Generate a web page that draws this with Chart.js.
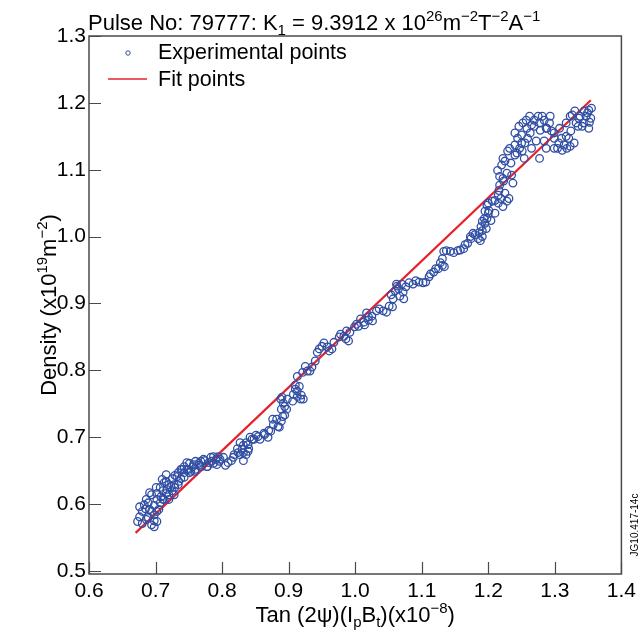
<!DOCTYPE html>
<html>
<head>
<meta charset="utf-8">
<script src="https://cdn.jsdelivr.net/npm/chart.js@4"></script>
<style>
html, body { margin: 0; padding: 0; background: #fff; }
canvas { display: block; }
</style>
</head>
<body>
<canvas id="densityChart" width="641" height="635"></canvas>
<script>
// experimental points (x = Tan(2psi)(IpBt) x1e-8, y = density x1e19)
const expX = [
  0.673, 0.676, 0.676, 0.680, 0.683, 0.686, 0.691, 0.694, 0.698, 0.698,
  0.694, 0.702, 0.708, 0.705, 0.713, 0.717, 0.723, 0.732, 0.728, 0.740,
  0.747, 0.753, 0.757, 0.768, 0.777, 0.784, 0.787, 0.794, 0.802, 0.809,
  0.817, 0.824, 0.832, 0.827, 0.839, 0.842, 0.848, 0.854, 0.864, 0.873,
  0.876, 0.884, 0.891, 0.894, 0.888, 0.898, 0.906, 0.913, 0.918, 0.910,
  0.916, 0.913, 0.921, 0.928, 0.935, 0.940, 0.943, 0.950, 0.958, 0.965,
  0.968, 0.976, 0.983, 0.990, 0.992, 0.999, 1.005, 1.013, 1.020, 1.025,
  1.032, 1.042, 1.051, 1.057, 1.062, 1.065, 1.072, 1.076, 1.087, 1.096,
  1.106, 1.111, 1.118, 1.125, 1.131, 1.131, 1.133, 1.143, 1.154, 1.163,
  1.169, 1.173, 1.177, 1.185, 1.191, 1.191, 1.195, 1.198, 1.200, 1.206,
  1.215, 1.215, 1.217, 1.217, 1.220, 1.228, 1.235, 1.225, 1.229, 1.240,
  1.244, 1.250, 1.258, 1.265, 1.269, 1.281, 1.292, 1.295, 1.272, 1.265,
  1.284, 1.299, 1.310, 1.314, 1.318, 1.304, 1.324, 1.326, 1.336, 1.344,
  1.351, 1.354, 1.351,
  0.686, 0.691, 0.701, 0.710, 0.716, 0.702, 0.713, 0.720, 0.728, 0.735,
  0.743, 0.750, 0.759, 0.765, 0.772, 0.780, 0.792, 0.797,
  1.240, 1.247, 1.255, 1.259, 1.252, 1.262, 1.277, 1.287, 1.307, 1.321,
  1.332, 1.341, 1.347, 1.329, 1.195, 1.198, 1.210, 1.222, 1.225,
  0.680, 0.685, 0.689, 0.689, 0.694, 0.698, 0.702, 0.702, 0.707, 0.707,
  0.698, 0.711, 0.711, 0.716, 0.716, 0.720, 0.720, 0.725, 0.725, 0.729,
  0.729, 0.734, 0.734, 0.738, 0.738, 0.743, 0.743, 0.747, 0.751, 0.751,
  0.756, 0.760, 0.760, 0.765, 0.769, 0.774, 0.778, 0.783, 0.787, 0.791,
  0.796, 0.805, 0.814, 0.818, 0.823, 0.827, 0.832, 0.832, 0.836, 0.836,
  0.840, 0.845, 0.830, 0.839, 0.851, 0.857, 0.863, 0.869, 0.870, 0.877,
  0.882, 0.886, 0.889, 0.894, 0.889, 0.892, 0.897, 0.890, 0.907, 0.913,
  0.919, 0.910, 0.922, 0.925, 0.932, 0.946, 0.953, 0.961, 0.978, 0.986,
  0.987, 1.002, 1.008, 1.014, 1.020, 1.026, 1.017, 1.036, 1.047, 1.056,
  1.054, 1.060, 1.067, 1.063, 1.070, 1.073, 1.081, 1.091, 1.102, 1.113,
  1.121, 1.128, 1.134, 1.137, 1.148, 1.158, 1.165, 1.174, 1.180, 1.188,
  1.186, 1.189, 1.194, 1.197, 1.201, 1.204, 1.191, 1.200, 1.210, 1.219,
  1.222, 1.231, 1.216, 1.223, 1.214, 1.228, 1.222, 1.234, 1.232, 1.237,
  1.240, 1.246, 1.250, 1.243, 1.254, 1.257, 1.263, 1.269, 1.275, 1.284,
  1.288, 1.278, 1.293, 1.251, 1.277, 1.287, 1.299, 1.306, 1.317, 1.323,
  1.311, 1.299, 1.317, 1.323, 1.330, 1.338, 1.343, 1.349, 1.352, 1.335,
  1.355
];
const expY = [
  0.574, 0.596, 0.581, 0.589, 0.599, 0.577, 0.592, 0.569, 0.566, 0.584,
  0.614, 0.607, 0.611, 0.592, 0.632, 0.622, 0.626, 0.641, 0.614, 0.652,
  0.662, 0.649, 0.659, 0.664, 0.656, 0.664, 0.671, 0.671, 0.670, 0.662,
  0.670, 0.677, 0.677, 0.692, 0.679, 0.700, 0.697, 0.701, 0.704, 0.709,
  0.727, 0.716, 0.731, 0.746, 0.757, 0.757, 0.754, 0.761, 0.757, 0.772,
  0.776, 0.791, 0.797, 0.799, 0.805, 0.814, 0.827, 0.836, 0.835, 0.832,
  0.842, 0.850, 0.851, 0.844, 0.857, 0.865, 0.866, 0.872, 0.875, 0.881,
  0.889, 0.889, 0.896, 0.907, 0.929, 0.922, 0.917, 0.925, 0.929, 0.932,
  0.932, 0.940, 0.947, 0.952, 0.957, 0.967, 0.978, 0.978, 0.979, 0.982,
  0.990, 1.000, 1.005, 0.997, 1.009, 1.023, 1.038, 1.047, 1.035, 1.053,
  1.050, 1.062, 1.077, 1.090, 1.107, 1.053, 1.092, 1.113, 1.128, 1.137,
  1.147, 1.152, 1.162, 1.167, 1.174, 1.180, 1.170, 1.158, 1.143, 1.132,
  1.143, 1.147, 1.147, 1.137, 1.132, 1.132, 1.158, 1.182, 1.177, 1.188,
  1.189, 1.177, 1.162,
  0.607, 0.617, 0.625, 0.637, 0.644, 0.574, 0.607, 0.614, 0.629, 0.634,
  0.640, 0.652, 0.649, 0.658, 0.667, 0.662, 0.659, 0.667,
  1.122, 1.132, 1.140, 1.147, 1.170, 1.180, 1.170, 1.162, 1.162, 1.147,
  1.170, 1.165, 1.180, 1.140, 1.020, 1.027, 1.035, 1.087, 1.065,
  0.571, 0.593, 0.602, 0.580, 0.589, 0.598, 0.616, 0.589, 0.625, 0.602,
  0.575, 0.620, 0.607, 0.634, 0.616, 0.629, 0.607, 0.638, 0.620, 0.643,
  0.625, 0.647, 0.629, 0.652, 0.638, 0.656, 0.647, 0.652, 0.661, 0.647,
  0.656, 0.664, 0.652, 0.661, 0.656, 0.665, 0.656, 0.670, 0.661, 0.667,
  0.664, 0.658, 0.665, 0.674, 0.683, 0.674, 0.688, 0.665, 0.692, 0.674,
  0.683, 0.697, 0.682, 0.689, 0.703, 0.697, 0.706, 0.700, 0.710, 0.719,
  0.727, 0.715, 0.724, 0.733, 0.742, 0.751, 0.742, 0.760, 0.764, 0.769,
  0.763, 0.778, 0.757, 0.806, 0.799, 0.832, 0.841, 0.829, 0.854, 0.847,
  0.859, 0.869, 0.877, 0.868, 0.880, 0.874, 0.886, 0.892, 0.887, 0.895,
  0.913, 0.919, 0.911, 0.926, 0.929, 0.907, 0.931, 0.934, 0.931, 0.944,
  0.952, 0.961, 0.955, 0.979, 0.976, 0.980, 0.988, 0.997, 1.003, 0.994,
  1.006, 1.015, 1.027, 1.012, 1.039, 1.024, 1.000, 1.050, 1.054, 1.057,
  1.045, 1.057, 1.069, 1.083, 1.099, 1.095, 1.117, 1.110, 1.132, 1.080,
  1.155, 1.165, 1.140, 1.125, 1.117, 1.174, 1.155, 1.165, 1.180, 1.174,
  1.162, 1.159, 1.180, 1.128, 1.117, 1.132, 1.155, 1.140, 1.150, 1.135,
  1.129, 1.132, 1.170, 1.180, 1.188, 1.180, 1.170, 1.185, 1.171, 1.165,
  1.192
];
// linear fit
const fitX = [0.670, 1.354];
const fitY = [0.557, 1.204];

const xTicks = [0.6, 0.7, 0.8, 0.9, 1.0, 1.1, 1.2, 1.3, 1.4];
const yTicks = [0.5, 0.6, 0.7, 0.8, 0.9, 1.0, 1.1, 1.2, 1.3];

// rich text: [text, kind] where kind is '', 'sup' or 'sub'
const titleParts = [['Pulse No: 79777: K', ''], ['1', 'sub'], [' = 9.3912 x 10', ''], ['26', 'sup'],
  ['m', ''], ['\u22122', 'sup'], ['T', ''], ['\u22122', 'sup'], ['A', ''], ['\u22121', 'sup']];
const yTitleParts = [['Density (x10', ''], ['19', 'sup'], ['m', ''], ['\u22122', 'sup'], [')', '']];
const xTitleParts = [['Tan (2\u03c8)(I', ''], ['p', 'sub'], ['B', ''], ['t', 'sub'], [')(x10', ''], ['\u22128', 'sup'], [')', '']];
const figCode = 'JG10.417-14c';

const fontFamily = '"Liberation Sans", Arial, Helvetica, sans-serif';
const axisColor = '#4a4a4a';
const pointColor = '#304ea4';
const fitColor = '#e8202a';

function richWidth(ctx, parts) {
  let w = 0;
  parts.forEach(([t, k]) => {
    ctx.font = (k ? 15 : 22) + 'px ' + fontFamily;
    w += ctx.measureText(t).width;
  });
  return w;
}

function drawRich(ctx, parts, x, y, align) {
  let cx = align === 'center' ? x - richWidth(ctx, parts) / 2 : x;
  ctx.textAlign = 'left';
  ctx.textBaseline = 'alphabetic';
  ctx.fillStyle = '#000';
  parts.forEach(([t, k]) => {
    ctx.font = (k ? 15 : 22) + 'px ' + fontFamily;
    let dy = k === 'sup' ? -9 : (k === 'sub' ? 5 : 0);
    ctx.fillText(t, cx, y + dy);
    cx += ctx.measureText(t).width;
  });
}

const decorPlugin = {
  id: 'decor',
  afterDraw(chart) {
    const ctx = chart.ctx;
    const area = chart.chartArea;
    const xs = chart.scales.x;
    const ys = chart.scales.y;
    ctx.save();

    // frame
    ctx.strokeStyle = axisColor;
    ctx.lineWidth = 1.5;
    ctx.strokeRect(area.left, area.top, area.right - area.left, area.bottom - area.top);

    // inward ticks
    ctx.beginPath();
    xTicks.forEach(v => {
      const px = Math.round(xs.getPixelForValue(v)) + 0.5;
      ctx.moveTo(px, area.bottom);
      ctx.lineTo(px, area.bottom - 12);
    });
    yTicks.forEach(v => {
      const py = Math.round(ys.getPixelForValue(v)) + 0.5;
      ctx.moveTo(area.left, py);
      ctx.lineTo(area.left + 12, py);
    });
    ctx.lineWidth = 1.2;
    ctx.stroke();

    // legend
    const ds = chart.data.datasets;
    ctx.font = '21.5px ' + fontFamily;
    ctx.fillStyle = '#000';
    ctx.textBaseline = 'alphabetic';
    ctx.textAlign = 'left';
    ctx.beginPath();
    ctx.arc(128, 53, 2.2, 0, Math.PI * 2);
    ctx.strokeStyle = ds[0].borderColor;
    ctx.lineWidth = 1;
    ctx.stroke();
    ctx.fillText(ds[0].label, 158, 59);
    ctx.beginPath();
    ctx.moveTo(108, 79);
    ctx.lineTo(147, 79);
    ctx.strokeStyle = ds[1].borderColor;
    ctx.lineWidth = 1.5;
    ctx.stroke();
    ctx.fillText(ds[1].label, 158, 86);

    // title and axis titles
    drawRich(ctx, titleParts, 88, 30, 'left');
    drawRich(ctx, xTitleParts, (area.left + area.right) / 2, 622, 'center');
    ctx.save();
    ctx.translate(56, (area.top + area.bottom) / 2);
    ctx.rotate(-Math.PI / 2);
    drawRich(ctx, yTitleParts, 0, 0, 'center');
    ctx.restore();

    // figure code on the right edge
    ctx.save();
    ctx.translate(638, 525);
    ctx.rotate(-Math.PI / 2);
    ctx.font = '10px ' + fontFamily;
    ctx.fillStyle = '#000';
    ctx.textAlign = 'center';
    ctx.fillText(figCode, 0, 0);
    ctx.restore();

    ctx.restore();
  }
};

const ctx = document.getElementById('densityChart').getContext('2d');

new Chart(ctx, {
  type: 'scatter',
  data: {
    datasets: [
      {
        label: 'Experimental points',
        data: expX.map((x, i) => ({ x: x, y: expY[i] })),
        pointStyle: 'circle',
        pointRadius: 3.8,
        pointBorderWidth: 1.3,
        borderColor: pointColor,
        backgroundColor: 'rgba(0,0,0,0)',
        showLine: false
      },
      {
        label: 'Fit points',
        data: fitX.map((x, i) => ({ x: x, y: fitY[i] })),
        showLine: true,
        borderColor: fitColor,
        borderWidth: 2.2,
        pointRadius: 0,
        fill: false
      }
    ]
  },
  options: {
    responsive: false,
    animation: false,
    devicePixelRatio: 1,
    layout: { padding: { left: 0, top: 36, right: 13, bottom: 0 } },
    plugins: {
      legend: { display: false },
      title: { display: false },
      tooltip: { enabled: false }
    },
    scales: {
      x: {
        type: 'linear',
        min: 0.6,
        max: 1.4,
        afterFit: (s) => { s.height = 61; },
        afterBuildTicks: (s) => { s.ticks = xTicks.map(v => ({ value: v })); },
        grid: { display: false, drawTicks: false },
        border: { display: false },
        ticks: {
          padding: 5,
          color: '#000',
          font: { family: fontFamily, size: 21 },
          callback: (v) => v.toFixed(1),
          maxRotation: 0
        }
      },
      y: {
        type: 'linear',
        min: 0.4955,
        max: 1.3,
        afterFit: (s) => { s.width = 89; },
        afterBuildTicks: (s) => { s.ticks = yTicks.map(v => ({ value: v })); },
        grid: { display: false, drawTicks: false },
        border: { display: false },
        ticks: {
          padding: 3,
          color: '#000',
          font: { family: fontFamily, size: 21 },
          callback: (v) => v.toFixed(1)
        }
      }
    }
  },
  plugins: [decorPlugin]
});
</script>
</body>
</html>
